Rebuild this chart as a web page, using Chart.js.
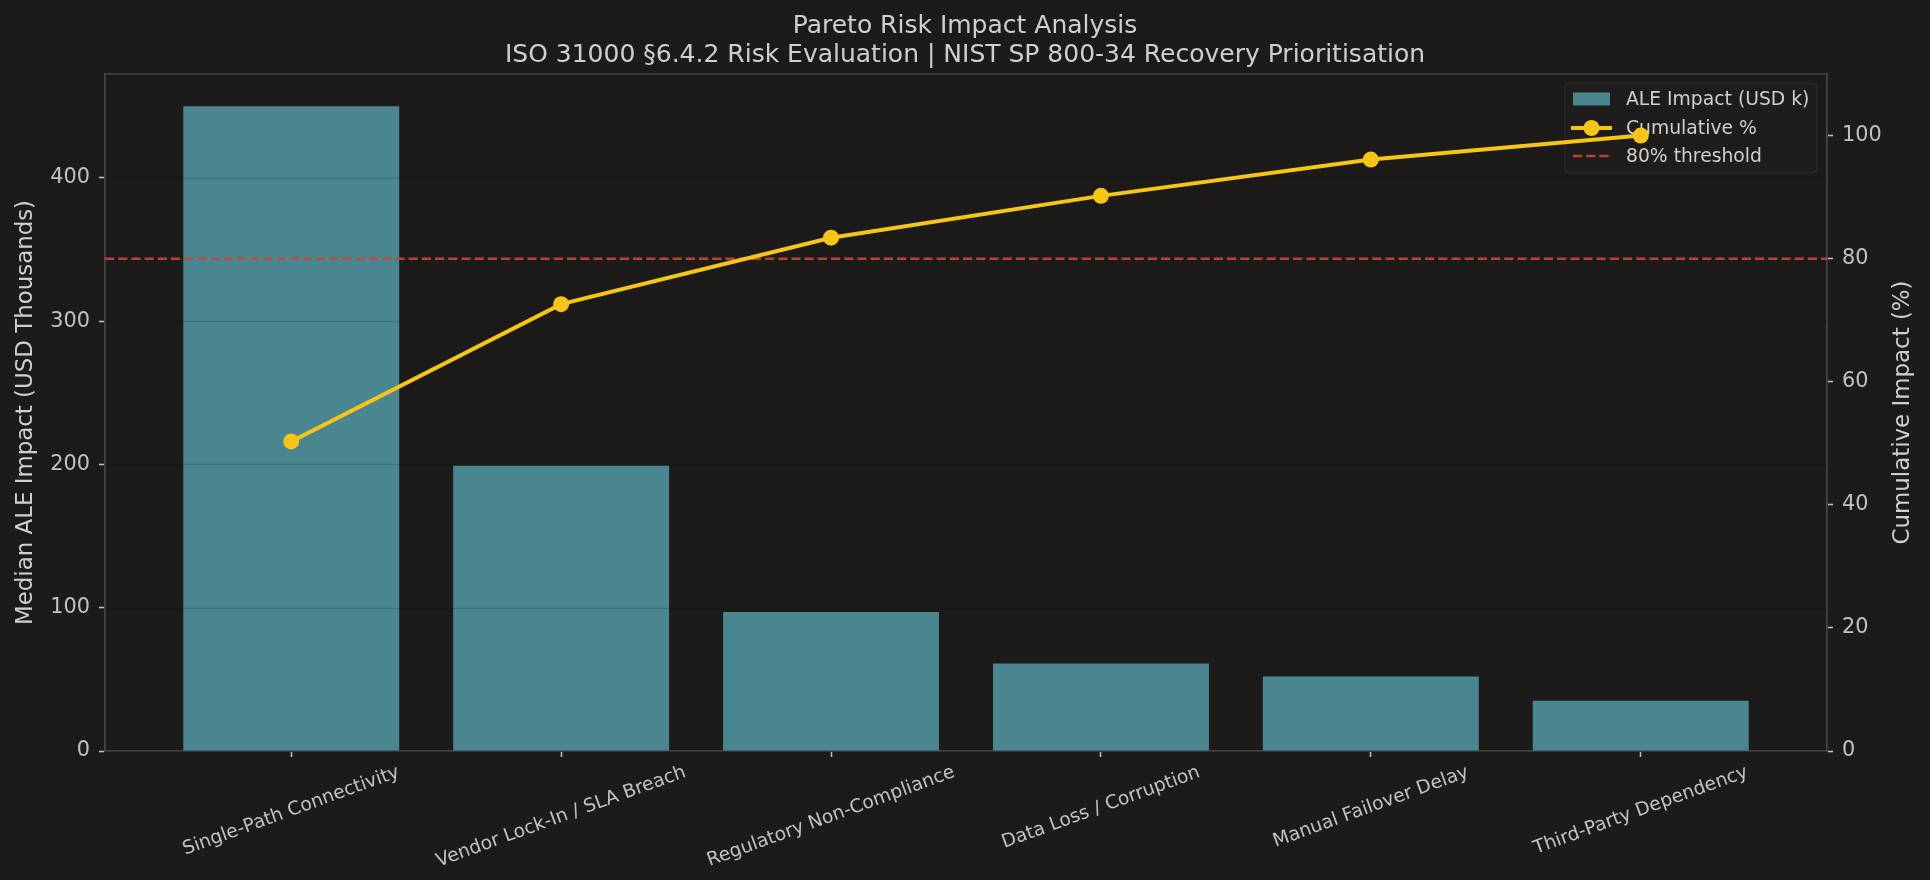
<!DOCTYPE html>
<html><head><meta charset="utf-8">
<script src="https://cdn.jsdelivr.net/npm/chart.js@4.4.1/dist/chart.umd.min.js"></script>
<style>html,body{margin:0;padding:0;background:#1c1b1a;}canvas{display:block;}</style>
</head><body>
<canvas id="c" width="1930" height="880"></canvas>
<script>
const categories = ['Single-Path Connectivity', 'Vendor Lock-In / SLA Breach', 'Regulatory Non-Compliance', 'Data Loss / Corruption', 'Manual Failover Delay', 'Third-Party Dependency'];
const aleImpact = [450, 199, 97, 61, 52, 35];
const cumulativePct = [50.3, 72.6, 83.4, 90.2, 96.1, 100];
const threshold = 80;
const thresholdLabel = '80% threshold';
const barLabel = 'ALE Impact (USD k)';
const lineLabel = 'Cumulative %';
const leftTicks = [0, 100, 200, 300, 400];
const rightTicks = [0, 20, 40, 60, 80, 100];
const titleLines = ['Pareto Risk Impact Analysis', 'ISO 31000 \u00a76.4.2 Risk Evaluation | NIST SP 800-34 Recovery Prioritisation'];
const leftAxisTitle = 'Median ALE Impact (USD Thousands)';
const rightAxisTitle = 'Cumulative Impact (%)';

const FONT = "'DejaVu Sans', sans-serif";
const BAR_COLOR = '#4a8690';
const LINE_COLOR = '#f5c518';
const TH_COLOR = 'rgba(200,72,58,0.9)';
const SPINE = '#464646';
const TICK_TXT = '#c2c2c2';
const LABEL_TXT = '#cfcfcf';

const decor = {
  id: 'decor',
  beforeDatasetDraw(chart, args) {
    if (args.meta.type !== 'line') return;
    const ctx = chart.ctx, a = chart.chartArea;
    const y = chart.scales.y, y1 = chart.scales.y1;
    ctx.save();
    // grid over bars
    ctx.strokeStyle = 'rgba(0,0,0,0.14)';
    ctx.lineWidth = 1.5;
    leftTicks.forEach(v => {
      const py = Math.round(y.getPixelForValue(v)) + 0.5;
      ctx.beginPath(); ctx.moveTo(a.left, py); ctx.lineTo(a.right, py); ctx.stroke();
    });
    // legend (under line)
    const lx = 1565, ly = 83, lw = 252, lh = 90;
    ctx.fillStyle = 'rgba(30,29,28,0.85)';
    ctx.strokeStyle = '#2c2c2c';
    ctx.lineWidth = 1.2;
    ctx.beginPath(); ctx.roundRect(lx, ly, lw, lh, 5); ctx.fill(); ctx.stroke();
    const rows = [99, 128, 156];
    ctx.fillStyle = BAR_COLOR;
    ctx.fillRect(1573, rows[0] - 6.5, 37, 13);
    ctx.strokeStyle = LINE_COLOR; ctx.lineWidth = 4;
    ctx.beginPath(); ctx.moveTo(1571, rows[1]); ctx.lineTo(1612, rows[1]); ctx.stroke();
    ctx.fillStyle = LINE_COLOR;
    ctx.beginPath(); ctx.arc(1591.5, rows[1], 8, 0, Math.PI * 2); ctx.fill();
    ctx.strokeStyle = TH_COLOR; ctx.lineWidth = 2.5; ctx.setLineDash([9.2, 4]);
    ctx.beginPath(); ctx.moveTo(1573, rows[2]); ctx.lineTo(1610, rows[2]); ctx.stroke();
    ctx.setLineDash([]);
    ctx.fillStyle = LABEL_TXT;
    ctx.font = '18.75px ' + FONT;
    ctx.textAlign = 'left'; ctx.textBaseline = 'middle';
    [barLabel, lineLabel, thresholdLabel].forEach((t, i) => ctx.fillText(t, 1626, rows[i] + 1));
    // threshold line
    const ty = y1.getPixelForValue(threshold);
    ctx.strokeStyle = TH_COLOR; ctx.lineWidth = 2.5; ctx.setLineDash([9.2, 4]);
    ctx.beginPath(); ctx.moveTo(a.left, ty); ctx.lineTo(a.right, ty); ctx.stroke();
    ctx.restore();
  },
  afterDraw(chart) {
    const ctx = chart.ctx, a = chart.chartArea;
    ctx.save();
    // top spine
    ctx.strokeStyle = SPINE; ctx.lineWidth = 1.7;
    ctx.beginPath(); ctx.moveTo(a.left, a.top); ctx.lineTo(a.right, a.top); ctx.stroke();
    // titles
    ctx.fillStyle = LABEL_TXT;
    ctx.font = '25px ' + FONT;
    ctx.textAlign = 'center'; ctx.textBaseline = 'middle';
    ctx.fillText(titleLines[0], 965, 26);
    ctx.fillText(titleLines[1], 965, 55);
    // axis titles
    ctx.font = '22.9px ' + FONT;
    const cy = (a.top + a.bottom) / 2;
    ctx.save(); ctx.translate(26, cy); ctx.rotate(-Math.PI / 2); ctx.fillText(leftAxisTitle, 0, 0); ctx.restore();
    ctx.save(); ctx.translate(1903, cy); ctx.rotate(-Math.PI / 2); ctx.fillText(rightAxisTitle, 0, 0); ctx.restore();
    // x tick labels, rotated 20deg, centred
    const xs = chart.scales.x;
    ctx.font = '18.75px ' + FONT;
    ctx.fillStyle = TICK_TXT;
    const ang = 20 * Math.PI / 180, h = 18.75;
    categories.forEach((c, i) => {
      const w = ctx.measureText(c).width;
      const bh = w * Math.sin(ang) + h * Math.cos(ang);
      const px = xs.getPixelForValue(i);
      const pyc = a.bottom + 12 + bh / 2;
      ctx.save(); ctx.translate(px, pyc); ctx.rotate(-ang); ctx.fillText(c, 0, 0); ctx.restore();
    });
    ctx.restore();
  }
};

const bgPlugin = {
  id: 'bg',
  beforeDraw(chart) {
    const ctx = chart.ctx;
    ctx.save(); ctx.fillStyle = '#1c1b1a'; ctx.fillRect(0, 0, chart.width, chart.height); ctx.restore();
  }
};

new Chart(document.getElementById('c'), {
  type: 'bar',
  data: {
    datasets: [
      {
        type: 'bar', label: barLabel,
        data: aleImpact.map((v, i) => ({ x: i, y: v })),
        backgroundColor: BAR_COLOR, yAxisID: 'y', xAxisID: 'x',
        categoryPercentage: 1, barPercentage: 0.8, order: 1
      },
      {
        type: 'line', label: lineLabel,
        data: cumulativePct.map((v, i) => ({ x: i, y: v })),
        borderColor: LINE_COLOR, backgroundColor: LINE_COLOR, borderWidth: 4,
        pointRadius: 8, pointBorderWidth: 0, pointBackgroundColor: LINE_COLOR,
        yAxisID: 'y1', xAxisID: 'x', order: 0, tension: 0
      }
    ]
  },
  options: {
    responsive: false, animation: false,
    layout: { padding: { top: 74, left: 0, right: 0, bottom: 0 } },
    plugins: { legend: { display: false }, title: { display: false }, tooltip: { enabled: false } },
    scales: {
      x: {
        type: 'linear', min: -0.69, max: 5.69, offset: false,
        afterBuildTicks: s => { s.ticks = categories.map((_, i) => ({ value: i })); },
        afterFit: s => { s.height = 129; },
        ticks: { display: false },
        grid: { display: true, offset: false, drawOnChartArea: false, color: 'transparent', tickColor: '#bdbdbd', tickLength: 6, tickWidth: 1.6 },
        border: { display: true, color: SPINE, width: 1.7 }
      },
      y: {
        position: 'left', min: 0, max: 472.5,
        afterBuildTicks: s => { s.ticks = leftTicks.map(v => ({ value: v })); },
        afterFit: s => { s.width = 105; },
        ticks: { color: TICK_TXT, font: { family: FONT, size: 20.8 }, padding: 9 },
        grid: { display: true, drawOnChartArea: false, tickColor: '#bdbdbd', tickLength: 6, tickWidth: 1.6 },
        border: { display: true, color: SPINE, width: 1.7 }
      },
      y1: {
        position: 'right', min: 0, max: 110,
        afterBuildTicks: s => { s.ticks = rightTicks.map(v => ({ value: v })); },
        afterFit: s => { s.width = 103; },
        ticks: { color: TICK_TXT, font: { family: FONT, size: 20.8 }, padding: 9 },
        grid: { display: true, drawOnChartArea: false, tickColor: '#bdbdbd', tickLength: 6, tickWidth: 1.6 },
        border: { display: true, color: SPINE, width: 1.7 }
      }
    }
  },
  plugins: [bgPlugin, decor]
});
</script>
</body></html>
